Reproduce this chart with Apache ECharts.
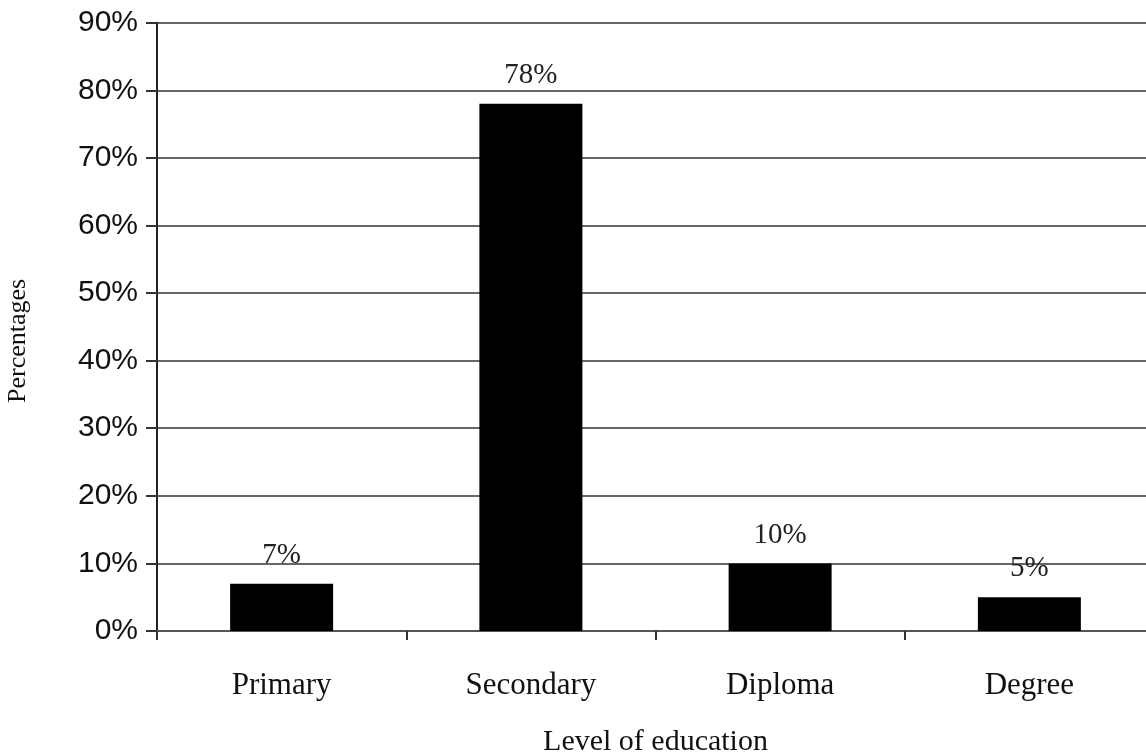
<!DOCTYPE html>
<html>
<head>
<meta charset="utf-8">
<script src="https://cdn.jsdelivr.net/npm/echarts@6/dist/echarts.min.js"></script>
<style>
  html, body { margin: 0; padding: 0; background: #fff; }
  #chart { width: 1146px; height: 753px; }
</style>
</head>
<body>
<div id="chart"></div>
<script>
// data
var levels = ["Primary", "Secondary", "Diploma", "Degree"];
var shares = [7, 78, 10, 5];

var chart = echarts.init(document.getElementById("chart"));
chart.setOption({
  animation: false,
  grid: { left: 157, top: 22.7, width: 997, height: 608.3, containLabel: false, outerBoundsMode: "none" },
  xAxis: {
    type: "category",
    data: levels,
    name: "Level of education",
    nameLocation: "middle",
    nameGap: 96,
    nameTextStyle: { fontFamily: "Liberation Serif", fontSize: 30, color: "#111" },
    axisLine: { lineStyle: { color: "#555", width: 2 } },
    axisTick: { show: true, length: 9, lineStyle: { color: "#333", width: 2 } },
    axisLabel: { margin: 39, fontFamily: "Liberation Serif", fontSize: 31, color: "#111" }
  },
  yAxis: {
    type: "value",
    min: 0,
    max: 90,
    interval: 10,
    name: "Percentages",
    nameLocation: "middle",
    nameRotate: 90,
    nameGap: 126,
    nameTextStyle: { fontFamily: "Liberation Serif", fontSize: 26, color: "#111", padding: [0, 28, 0, 0] },
    axisLine: { show: true, lineStyle: { color: "#222", width: 2 } },
    axisTick: { show: true, inside: false, length: 11, lineStyle: { color: "#333", width: 2 } },
    axisLabel: { formatter: "{value}%", margin: 19, fontFamily: "Liberation Sans", fontSize: 30, color: "#111" },
    splitLine: { show: true, lineStyle: { color: "#666", width: 2 } }
  },
  series: [{
    type: "bar",
    data: shares,
    barWidth: 103,
    itemStyle: { color: "#000" },
    label: {
      show: true,
      position: "top",
      distance: 14,
      formatter: "{c}%",
      fontFamily: "Liberation Serif",
      fontSize: 29,
      color: "#222"
    }
  }]
});
</script>
</body>
</html>
